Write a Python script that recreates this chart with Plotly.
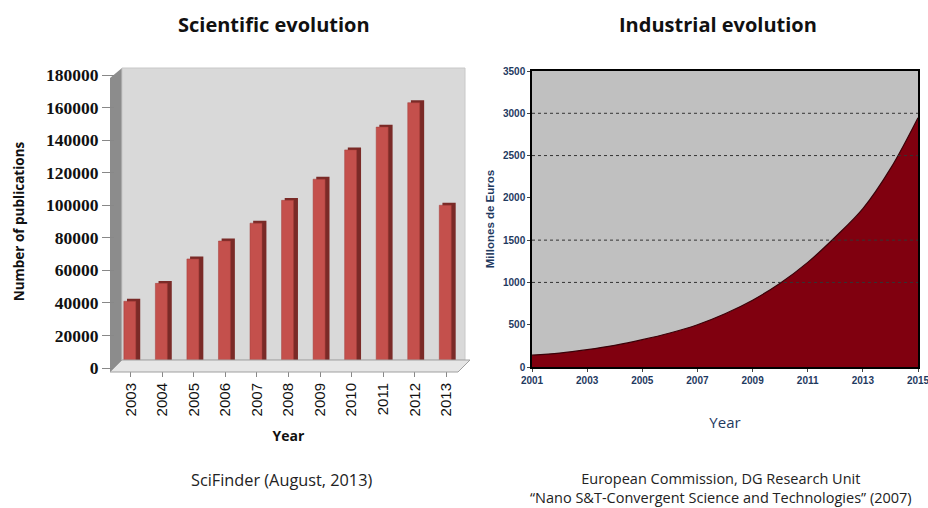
import plotly.graph_objects as go

# ---------------- data ----------------
sci_years = ["2003", "2004", "2005", "2006", "2007", "2008", "2009", "2010", "2011", "2012", "2013"]
sci_pubs = [41000, 52000, 67000, 78000, 89000, 103000, 116000, 134000, 148000, 163000, 100000]
sci_yticks = [0, 20000, 40000, 60000, 80000, 100000, 120000, 140000, 160000, 180000]

ind_years = [2001, 2002, 2003, 2004, 2005, 2006, 2007, 2008, 2009, 2010, 2011, 2012, 2013, 2014, 2015]
ind_values = [140, 165, 205, 256, 323, 402, 500, 630, 790, 990, 1237, 1537, 1872, 2345, 2948]
ind_yticks = [0, 500, 1000, 1500, 2000, 2500, 3000, 3500]
ind_xticks = [2001, 2003, 2005, 2007, 2009, 2011, 2013, 2015]
ind_grid = [1000, 1500, 2500, 3000]

W, H = 928, 508
fig = go.Figure()

# left: 3D-ish bars (shadow + face)
fig.add_trace(go.Bar(x=sci_years, y=sci_pubs, base=1500, marker=dict(color="#7a2a27", line_width=0),
                     width=0.42, offset=-0.12, xaxis="x", yaxis="y", hoverinfo="skip", showlegend=False))
fig.add_trace(go.Bar(x=sci_years, y=sci_pubs, marker=dict(color="#c4504c", line=dict(color="#a33c38", width=0.5)),
                     width=0.38, offset=-0.22, xaxis="x", yaxis="y", showlegend=False))

# right: area
fig.add_trace(go.Scatter(x=ind_years, y=ind_values, mode="lines", line=dict(color="#3a0008", width=1.2, shape="spline"),
                         fill="tozeroy", fillcolor="#80000f", xaxis="x2", yaxis="y2", showlegend=False))

lx0, lx1 = 115 / W, 462 / W
ly0, ly1 = 1 - 368 / H, 1 - 75 / H
rx0, rx1 = 532 / W, 918 / W
ry0, ry1 = 1 - 367 / H, 1 - 71 / H

shapes = []
# left wall (3D)
shapes.append(dict(type="path", xref="paper", yref="paper",
                   path=f"M {110/W} {1-372/H} L {122/W} {1-360/H} L {122/W} {1-68/H} L {110/W} {1-78/H} Z",
                   fillcolor="#8c8c8c", line=dict(width=0), layer="below"))
# floor
shapes.append(dict(type="path", xref="paper", yref="paper",
                   path=f"M {110/W} {1-372/H} L {458/W} {1-372/H} L {470/W} {1-360/H} L {122/W} {1-360/H} Z",
                   fillcolor="#e6e6e6", line=dict(color="#a0a0a0", width=1), layer="above"))
# dotted gridlines right
for g in ind_grid:
    shapes.append(dict(type="line", xref="x2 domain", yref="y2", x0=0, x1=1, y0=g, y1=g,
                       line=dict(color="#333333", width=1, dash="dot"), layer="above"))

title_font = dict(family="Open Sans, Noto Sans, sans-serif", size=20, color="#111111")
annotations = [
    dict(text="<b>Scientific evolution</b>", x=274 / W, y=1 - 24 / H, xref="paper", yref="paper",
         showarrow=False, font=title_font, xanchor="center", yanchor="middle"),
    dict(text="<b>Industrial evolution</b>", x=718 / W, y=1 - 24 / H, xref="paper", yref="paper",
         showarrow=False, font=title_font, xanchor="center", yanchor="middle"),
    dict(text="SciFinder (August, 2013)", x=281 / W, y=1 - 480 / H, xref="paper", yref="paper",
         showarrow=False, font=dict(family="Open Sans, sans-serif", size=16.3, color="#222222"),
         xanchor="center", yanchor="middle"),
    dict(text="European Commission, DG Research Unit<br>\u201cNano S&T-Convergent Science and Technologies\u201d (2007)",
         x=721 / W, y=1 - 488 / H, xref="paper", yref="paper", align="center",
         showarrow=False, font=dict(family="Open Sans, sans-serif", size=14.5, color="#222222"),
         xanchor="center", yanchor="middle"),
]

fig.update_layout(
    width=W, height=H, margin=dict(l=0, r=0, t=0, b=0, autoexpand=False),
    paper_bgcolor="white", plot_bgcolor="rgba(0,0,0,0)",
    barmode="overlay", shapes=shapes, annotations=annotations,
    xaxis=dict(domain=[lx0, lx1], type="category", range=[-0.5, 10.5], tickangle=-90, automargin=False,
               tickfont=dict(family="Liberation Sans, sans-serif", size=15, color="#111111"),
               showgrid=False, zeroline=False, showline=False, ticks="outside", ticklen=8, tickcolor="#888888",
               title=dict(text="<b>Year</b>", font=dict(family="Open Sans, sans-serif", size=14, color="#111111"), standoff=15)),
    yaxis=dict(domain=[ly0, ly1], range=[0, 180000], tickvals=sci_yticks, automargin=False,
               ticktext=[f"<b>{v}</b>" for v in sci_yticks],
               tickfont=dict(family="Liberation Serif, serif", size=17.5, color="#111111"),
               showgrid=False, zeroline=False, showline=False, ticks="outside", ticklen=12, tickcolor="#888888",
               title=dict(text="<b>Number of publications</b>", font=dict(family="Open Sans, sans-serif", size=13.5, color="#111111"), standoff=18)),
    xaxis2=dict(domain=[rx0, rx1], range=[2001, 2015], tickvals=ind_xticks, anchor="y2", automargin=False,
                ticktext=[f"<b>{v}</b>" for v in ind_xticks], ticklabeloverflow="allow",
                tickfont=dict(family="Liberation Sans Narrow, Liberation Sans, sans-serif", size=10, color="#1f3a5f"),
                showgrid=False, zeroline=False, showline=True, linecolor="black", linewidth=1.5, mirror=True,
                ticks="outside", ticklen=3,
                title=dict(text="Year", font=dict(family="Open Sans, sans-serif", size=15, color="#1f3a5f"), standoff=33)),
    yaxis2=dict(domain=[ry0, ry1], range=[0, 3500], tickvals=ind_yticks, anchor="x2", automargin=False,
                ticktext=[f"<b>{v}</b>" for v in ind_yticks], ticklabeloverflow="allow",
                tickfont=dict(family="Liberation Sans Narrow, Liberation Sans, sans-serif", size=10, color="#1f3a5f"),
                showgrid=False, zeroline=False, showline=True, linecolor="black", linewidth=1.5, mirror=True,
                ticks="outside", ticklen=3,
                title=dict(text="<b>Millones de Euros</b>", font=dict(family="Liberation Sans, sans-serif", size=11.5, color="#1f3a5f"), standoff=6)),
)

# backgrounds as rectangles below traces
fig.add_shape(type="rect", xref="paper", yref="paper", x0=122 / W, x1=465 / W, y0=1 - 360 / H, y1=1 - 68 / H,
              fillcolor="#d9d9d9", line=dict(color="#c8c8c8", width=1), layer="below")
fig.add_shape(type="rect", xref="x2 domain", yref="y2 domain", x0=0, x1=1, y0=0, y1=1,
              fillcolor="#c0c0c0", line=dict(width=0), layer="below")

fig.write_html("out.html")
